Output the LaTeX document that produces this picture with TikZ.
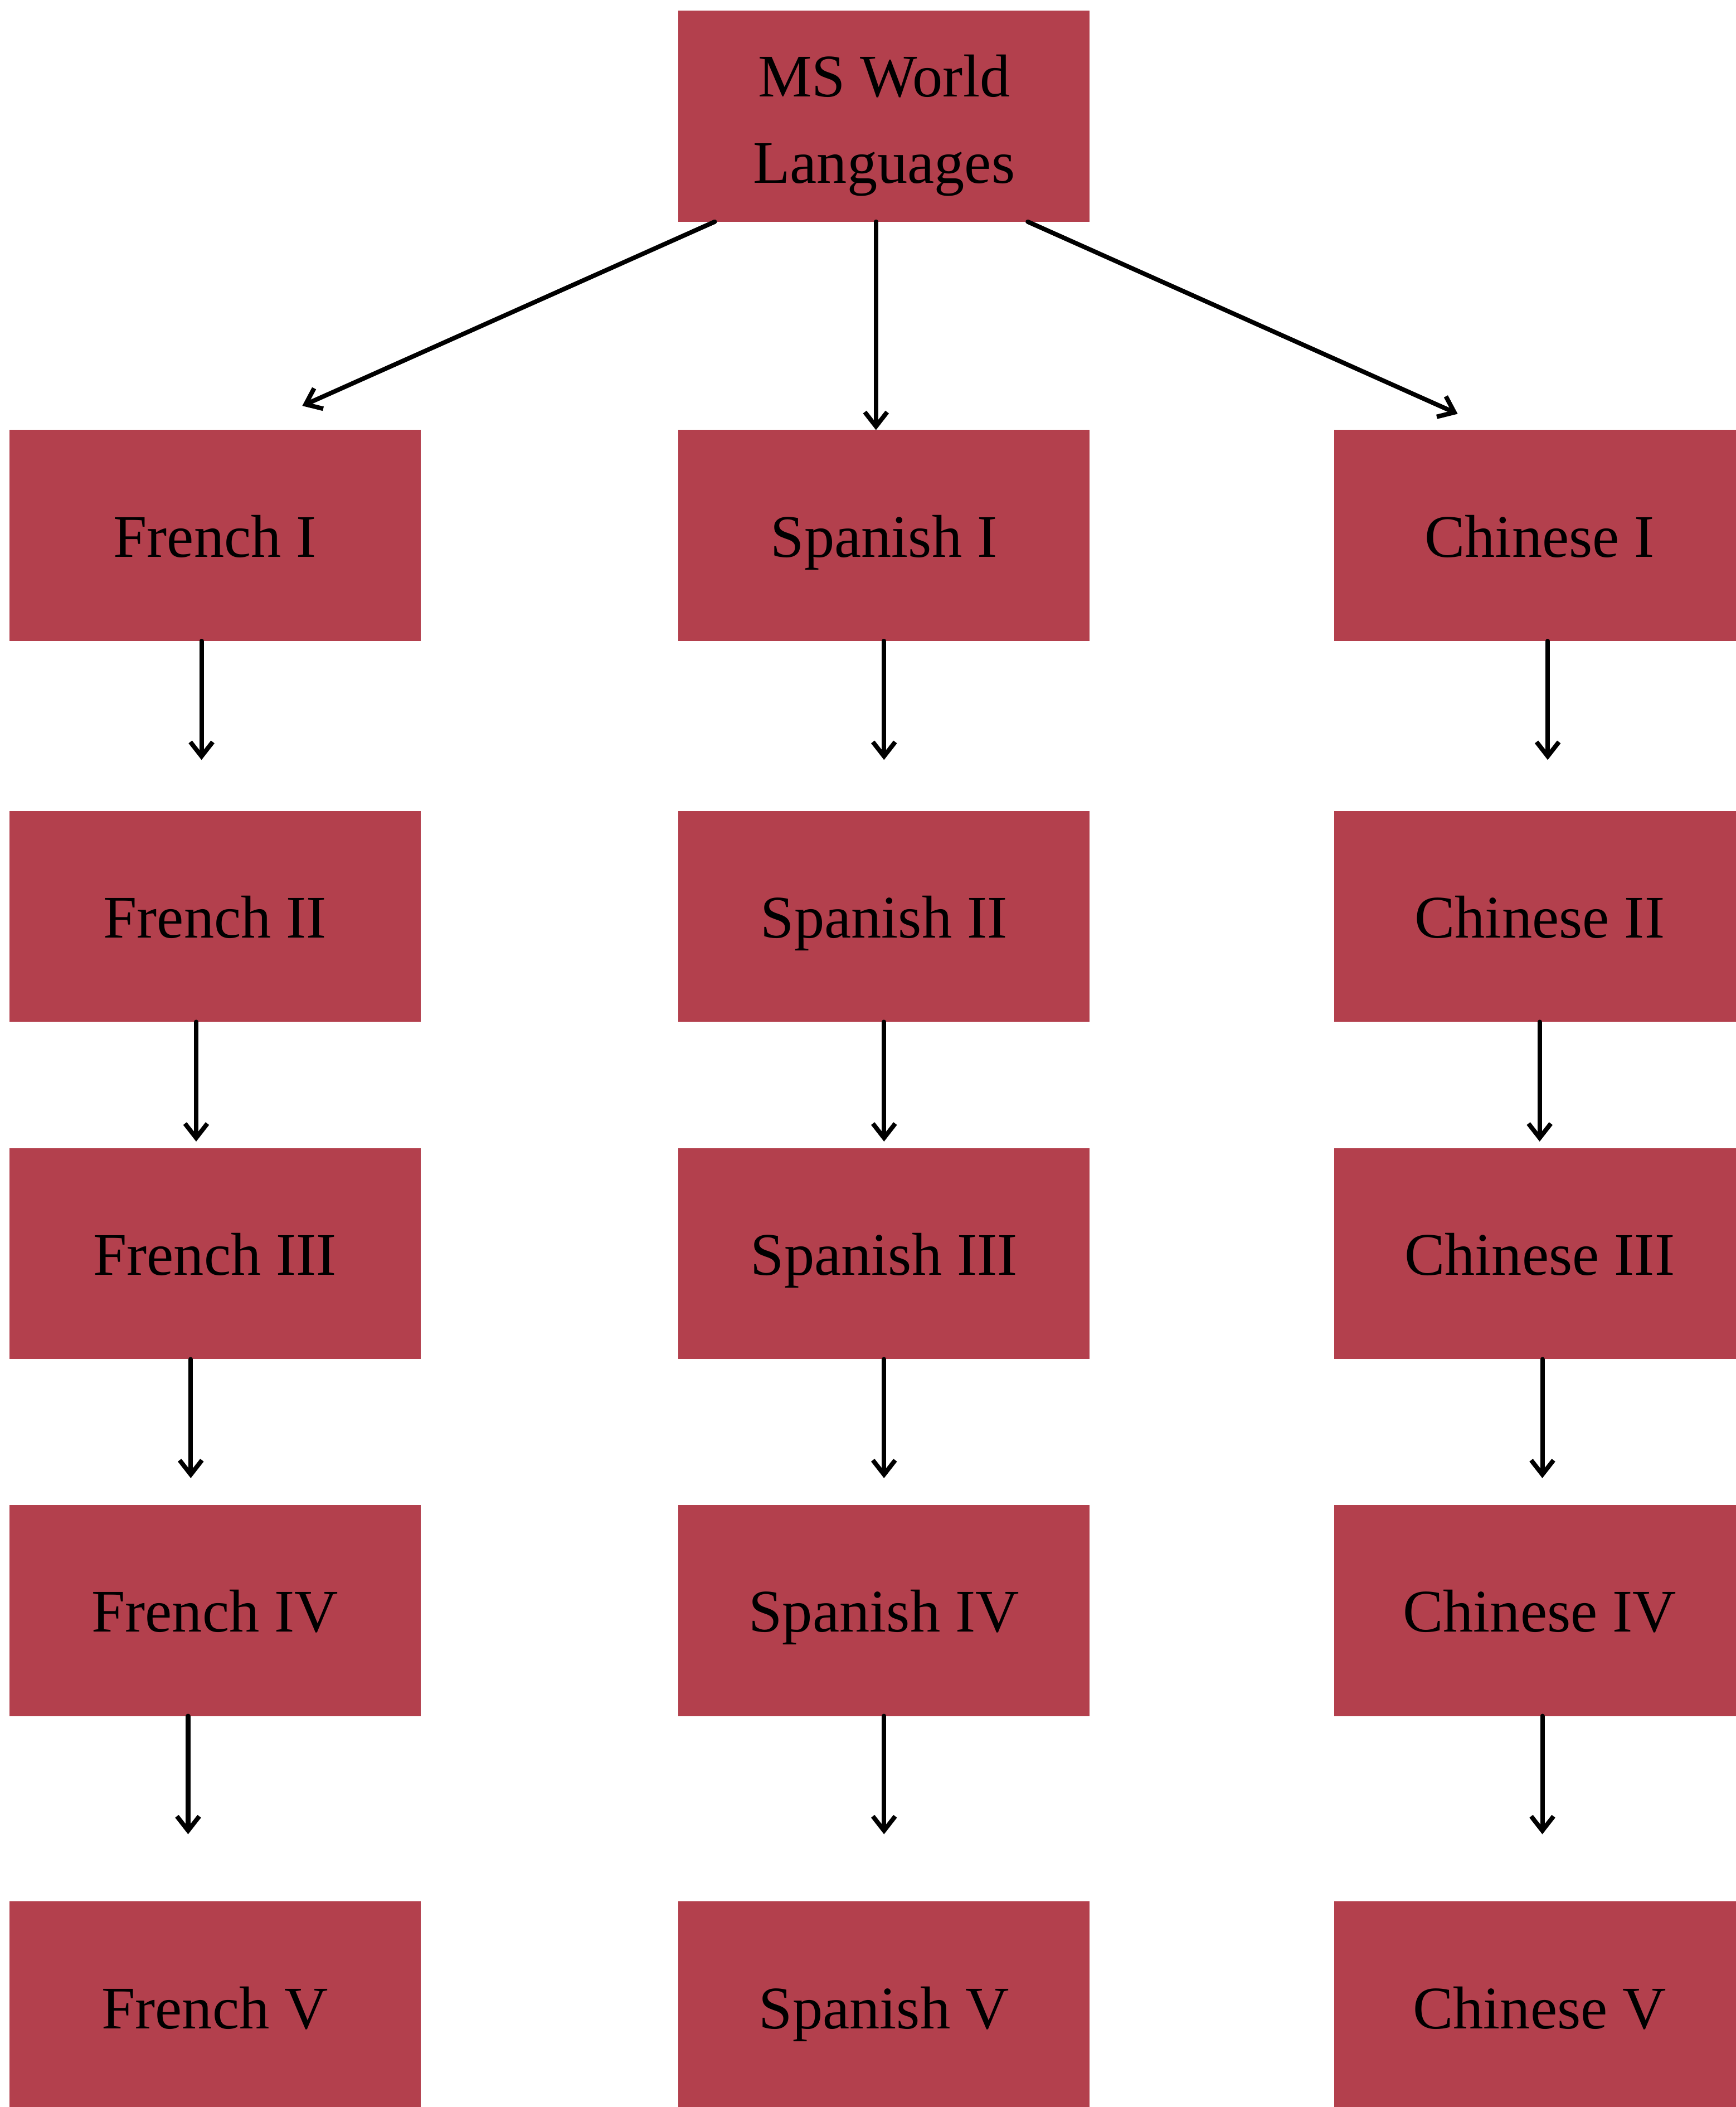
\documentclass[tikz,border=0pt]{standalone}
\usepackage{fontspec}
\setmainfont{Liberation Serif}
\usepackage{tikz}
\usetikzlibrary{arrows.meta,calc}
\definecolor{coursered}{HTML}{B3404D}
\tikzstyle{course}=[fill=coursered, inner sep=0, outer sep=0, minimum width=91.8pt, minimum height=47.1pt,
                    align=center, font=\fontsize{13.5}{19.2}\selectfont]
\tikzstyle{level}=[course, text height=10.8pt, text depth=1.2pt]
\tikzstyle{prereq}=[-{Straight Barb[length=3.2pt,width=5pt]}, line width=1pt, line cap=round]
\tikzstyle{coursemap}=[x=0.3pt, y=-0.3pt,
                       % Page size of the chart, boxes of the last row run off it.
                       execute at begin picture={\useasboundingbox (0,0) rectangle (1292,1568);}]

\begin{document}
\begin{tikzpicture}[coursemap]
        \node[course] (ms) at (658,86.5) {\rule{0pt}{13.5pt}MS World\\Languages};
        % French
        \node[level] (F1) at (160,398.5) {French I};
        \node[level] (F2) at (160,682) {French II};
        \node[level] (F3) at (160,933) {French III};
        \node[level] (F4) at (160,1198.5) {French IV};
        \node[level] (F5) at (160,1493.5) {French V};
        % Spanish
        \node[level] (S1) at (658,398.5) {Spanish I};
        \node[level] (S2) at (658,682) {Spanish II};
        \node[level] (S3) at (658,933) {Spanish III};
        \node[level] (S4) at (658,1198.5) {Spanish IV};
        \node[level] (S5) at (658,1493.5) {Spanish V};
        % Chinese
        \node[level] (C1) at (1146,398.5) {Chinese I};
        \node[level] (C2) at (1146,682) {Chinese II};
        \node[level] (C3) at (1146,933) {Chinese III};
        \node[level] (C4) at (1146,1198.5) {Chinese IV};
        \node[level] (C5) at (1146,1493.5) {Chinese V};
        \draw[prereq] ($(ms.south)+(-126,0)$) -- ($(F1.north)+(65,-18)$);
        \draw[prereq] ($(ms.south)+(-6,0)$) -- ($(S1.north)+(-6,0)$);
        \draw[prereq] ($(ms.south)+(107,0)$) -- ($(C1.north)+(-61,-12)$);
        \draw[prereq, shorten >=11.4pt] ([xshift=-3pt]F1.south) -- ([xshift=-3pt]F2.north);
        \draw[prereq, shorten >=1.5pt] ([xshift=-4.2pt]F2.south) -- ([xshift=-4.2pt]F3.north);
        \draw[prereq, shorten >=6pt] ([xshift=-5.4pt]F3.south) -- ([xshift=-5.4pt]F4.north);
        \draw[prereq, shorten >=15pt] ([xshift=-6pt]F4.south) -- ([xshift=-6pt]F5.north);
        \draw[prereq, shorten >=11.4pt] (S1) -- (S2);
        \draw[prereq, shorten >=1.5pt] (S2) -- (S3);
        \draw[prereq, shorten >=6pt] (S3) -- (S4);
        \draw[prereq, shorten >=15pt] (S4) -- (S5);
        \draw[prereq, shorten >=11.4pt] ([xshift=1.8pt]C1.south) -- ([xshift=1.8pt]C2.north);
        \draw[prereq, shorten >=1.5pt] (C2) -- (C3);
        \draw[prereq, shorten >=6pt] ([xshift=0.6pt]C3.south) -- ([xshift=0.6pt]C4.north);
        \draw[prereq, shorten >=15pt] ([xshift=0.6pt]C4.south) -- ([xshift=0.6pt]C5.north);
    \end{tikzpicture}
\end{document}
